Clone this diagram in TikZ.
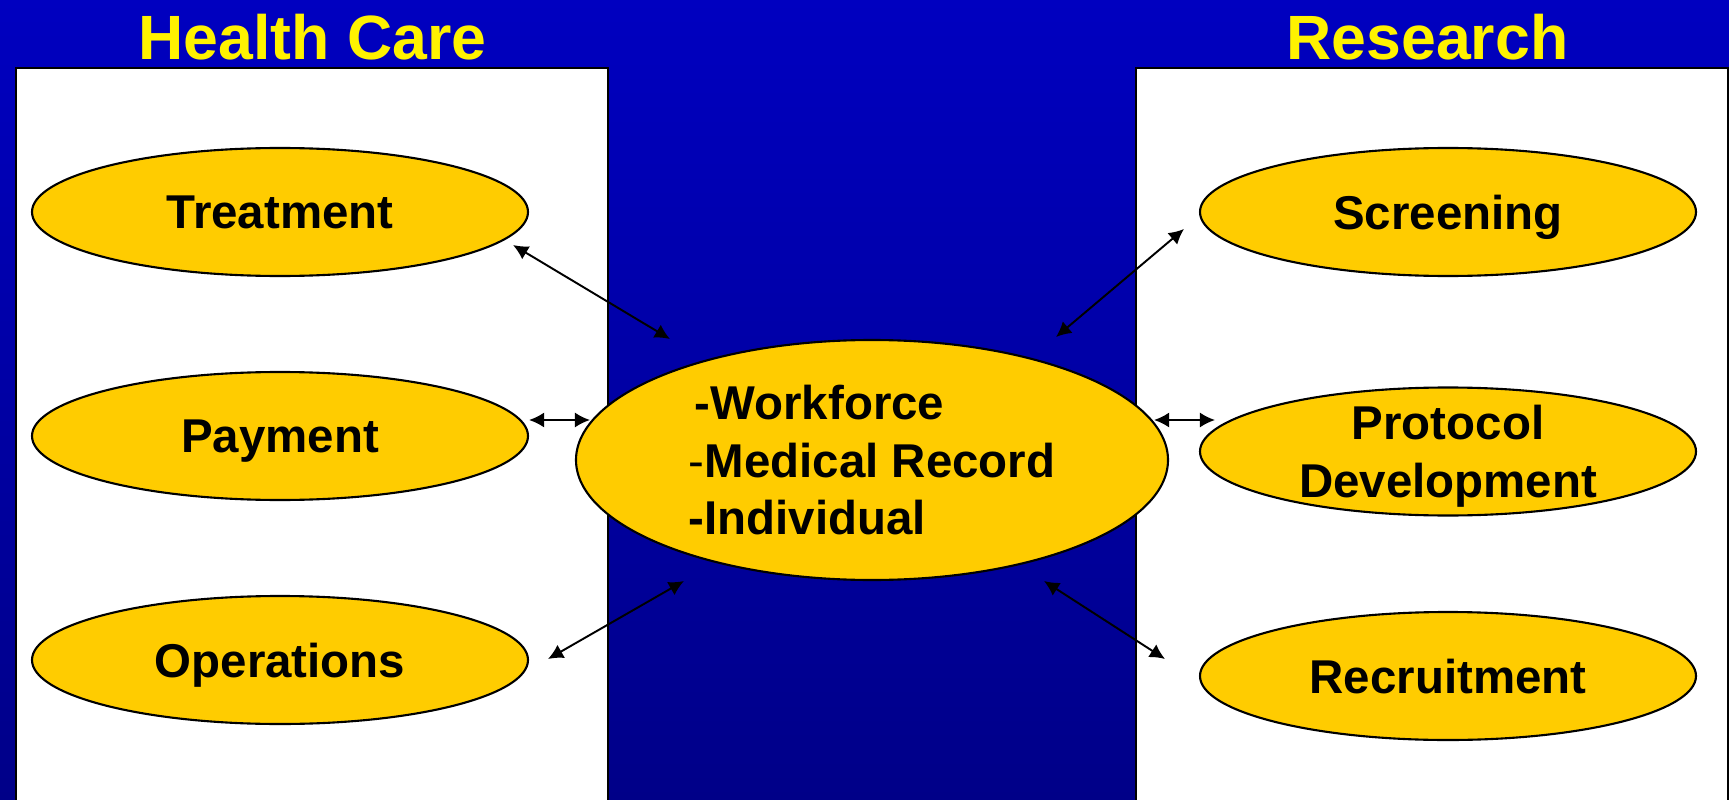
\documentclass[tikz,border=0pt]{standalone}
\usepackage{fontspec}
\setmainfont{Liberation Sans}
\usetikzlibrary{shapes.geometric,arrows.meta}

\definecolor{bgtop}{RGB}{0,0,192}
\definecolor{bgmid}{RGB}{0,0,255}
\definecolor{bgbot}{RGB}{0,0,136}
\definecolor{gold}{RGB}{255,204,0}

\tikzset{
  bubble/.style={ellipse,draw,fill=gold,line width=0.6pt,inner sep=0pt,outer sep=0pt,
    minimum width=4.96cm,minimum height=1.28cm},
  heading/.style={anchor=base,text=yellow,font=\fontsize{17.8}{20}\selectfont\bfseries},
  link/.style={{Latex[length=4.3pt,width=4.3pt]}-{Latex[length=4.3pt,width=4.3pt]},line width=0.55pt},
  every label/.style={font=\fontsize{13.5}{16.4}\selectfont\bfseries,align=center,
    inner sep=0pt,text depth=0pt},
}

\begin{document}
\begin{tikzpicture}

      % backdrop and the two panels
      \useasboundingbox (0,0) rectangle (17.29,7.99);
      \shade[top color=bgtop,middle color=bgmid,bottom color=bgbot] (0,0) rectangle (17.29,7.99);
      \draw[fill=white,line width=0.6pt] (0.16,-0.2) rectangle (6.08,7.31);
      \draw[fill=white,line width=0.6pt] (11.36,-0.2) rectangle (17.28,7.31);

      \node[heading] (care) at (3.125,7.39) {Health Care};
      \node[heading] (research) at (14.275,7.39) {Research};

      % left column
      \node[bubble,label=center:Treatment]  (treat) at (2.80,5.87) {};
      \node[bubble,label=center:Payment]    (pay)   at (2.80,3.63) {};
      \node[bubble,label=center:Operations] (ops)   at (2.80,1.39) {};

      % right column
      \node[bubble,label=center:Screening]  (screen)  at (14.48,5.87) {};
      \node[bubble,label={center:Protocol\\Development}] (proto) at (14.48,3.475) {};
      \node[bubble,label=center:Recruitment] (recruit) at (14.48,1.23) {};

      % shared data in the middle
      \node[bubble,minimum width=5.92cm,minimum height=2.40cm,
        label={[align=left]center:\hspace*{1.7pt}-Workforce\\{\mdseries-}Medical Record\\-Individual}]
        (mid) at (8.72,3.39) {};

      % arrow tips sit just off the bubbles
      \coordinate (treat-tip)   at ([shift={(2.33,-0.33)}]treat.center);
      \coordinate (pay-tip)     at ([shift={(2.49,0.16)}]pay.center);
      \coordinate (ops-tip)     at ([shift={(2.68,0.01)}]ops.center);
      \coordinate (screen-tip)  at ([shift={(-2.64,-0.17)}]screen.center);
      \coordinate (proto-tip)   at ([shift={(-2.33,0.315)}]proto.center);
      \coordinate (recruit-tip) at ([shift={(-2.83,0.17)}]recruit.center);
      \coordinate (mid-tl) at ([shift={(-2.02,1.21)}]mid.center);
      \coordinate (mid-l)  at ([shift={(-2.82,0.40)}]mid.center);
      \coordinate (mid-bl) at ([shift={(-1.88,-1.21)}]mid.center);
      \coordinate (mid-tr) at ([shift={(1.84,1.23)}]mid.center);
      \coordinate (mid-r)  at ([shift={(2.82,0.40)}]mid.center);
      \coordinate (mid-br) at ([shift={(1.72,-1.21)}]mid.center);

      \draw[link] (treat-tip) -- (mid-tl);
      \draw[link] (pay-tip)   -- (mid-l);
      \draw[link] (ops-tip)   -- (mid-bl);
      \draw[link] (mid-tr) -- (screen-tip);
      \draw[link] (mid-r)  -- (proto-tip);
      \draw[link] (mid-br) -- (recruit-tip);

\end{tikzpicture}
\end{document}
